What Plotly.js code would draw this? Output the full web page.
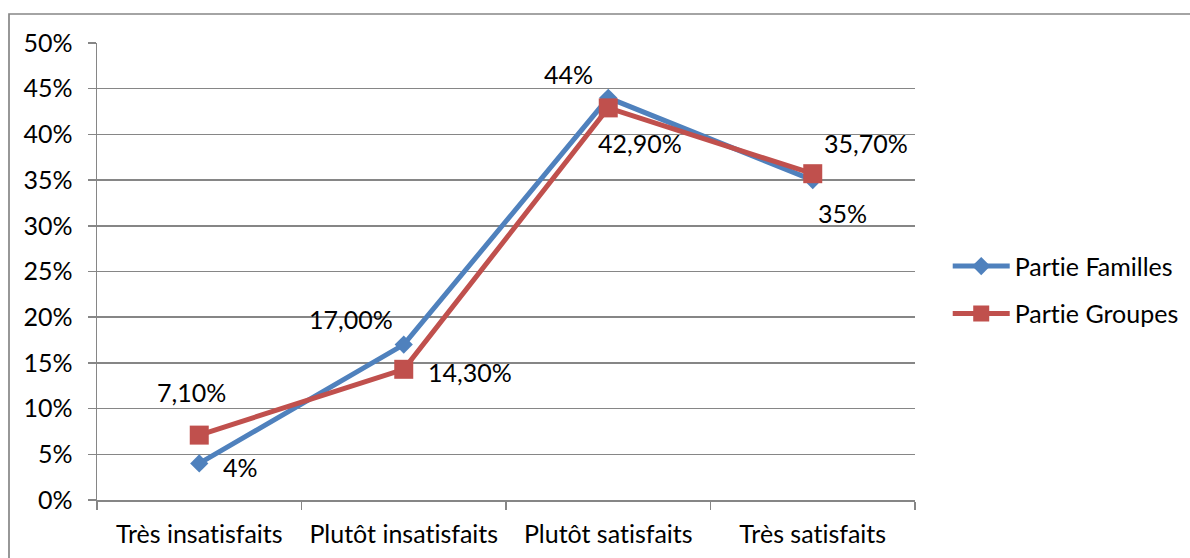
<!DOCTYPE html>
<html>
<head>
<meta charset="utf-8">
<script src="https://cdn.plot.ly/plotly-3.0.1.min.js"></script>
<style>html,body{margin:0;padding:0;background:#fff;}#chart{width:1190px;height:558px;}
#chart text{font-variant-ligatures:none;font-feature-settings:"liga" 0, "clig" 0;}</style>
</head>
<body>
<div id="chart"></div>
<script>
var categories = ['Très insatisfaits', 'Plutôt insatisfaits', 'Plutôt satisfaits', 'Très satisfaits'];
var famillesValues = [0.04, 0.17, 0.44, 0.35];
var groupesValues = [0.071, 0.143, 0.429, 0.357];
var famillesLabels = ['4%', '17,00%', '44%', '35%'];
var groupesLabels = ['7,10%', '14,30%', '42,90%', '35,70%'];
var yTickVals = [0, 0.05, 0.1, 0.15, 0.2, 0.25, 0.3, 0.35, 0.4, 0.45, 0.5];

// label offsets (style), in pixels
var famShift = [[41, -4], [-53, 26], [-40, 24], [30, -33]];
var grpShift = [[-8, 43], [66, -3], [32, -35], [53, 31]];

var FONT = 'Lato, "Open Sans", sans-serif';
var FS = 25;
var BLUE = '#4F81BD', RED = '#C0504D', GRID = '#868686';

var traces = [
  {x: categories, y: famillesValues, name: 'Partie Familles', type: 'scatter', mode: 'lines+markers',
   legendgroup: 'f', line: {color: BLUE, width: 5}, marker: {symbol: 'diamond', size: 14, color: BLUE}, cliponaxis: false},
  {x: categories, y: groupesValues, name: 'Partie Groupes', type: 'scatter', mode: 'lines+markers',
   legendgroup: 'g', line: {color: RED, width: 5}, marker: {symbol: 'square', size: 19, color: RED}, cliponaxis: false}
];

var annotations = [];
function addLabels(vals, labels, shifts) {
  for (var i = 0; i < vals.length; i++) {
    annotations.push({x: categories[i], y: vals[i], xref: 'x', yref: 'y', text: labels[i], showarrow: false,
      xshift: shifts[i][0], yshift: shifts[i][1], font: {family: FONT, size: FS, color: '#000'}});
  }
}
addLabels(famillesValues, famillesLabels, famShift);
addLabels(groupesValues, groupesLabels, grpShift);

var layout = {
  width: 1190, height: 558,
  margin: {l: 97, r: 275, t: 43, b: 58, pad: 0, autoexpand: false},
  paper_bgcolor: '#fff', plot_bgcolor: '#fff',
  font: {family: FONT, size: FS, color: '#000'},
  showlegend: true,
  legend: {x: 1.04, y: 0.46, xanchor: 'left', yanchor: 'middle', traceorder: 'grouped', tracegroupgap: 12,
    itemwidth: 57, font: {family: FONT, size: FS, color: '#000'}, bgcolor: 'rgba(0,0,0,0)'},
  xaxis: {type: 'category', range: [-0.5, 3.5], showgrid: false, showline: true, linecolor: GRID, linewidth: 1.5,
    ticks: 'outside', ticklen: 8, tickcolor: GRID, tickwidth: 1.5, tickson: 'boundaries',
    ticklabelstandoff: 11, zeroline: false, fixedrange: true, automargin: false},
  yaxis: {range: [0, 0.5], tickvals: yTickVals, tickformat: '.0%', showgrid: true, gridcolor: GRID, gridwidth: 1.5,
    showline: true, linecolor: GRID, linewidth: 1.5, ticks: 'outside', ticklen: 8, tickcolor: GRID, tickwidth: 1.5,
    ticklabelstandoff: 10, zeroline: false, fixedrange: true, automargin: false},
  shapes: [{type: 'rect', xref: 'paper', yref: 'paper', x0: (9 - 97) / 818, x1: 2, y0: -1, y1: (500 - 14) / 457,
    line: {color: GRID, width: 1.7}, fillcolor: 'rgba(0,0,0,0)', layer: 'below'}],
  annotations: annotations
};

Plotly.newPlot('chart', traces, layout, {displayModeBar: false, staticPlot: true});
</script>
</body>
</html>
